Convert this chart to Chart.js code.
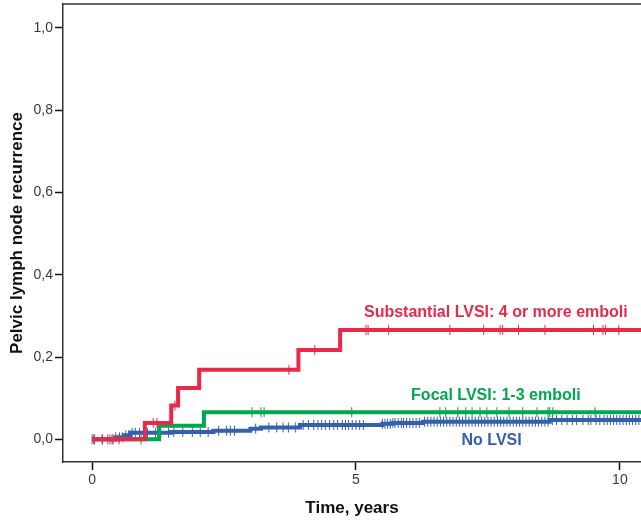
<!DOCTYPE html>
<html>
<head>
<meta charset="utf-8">
<script src="https://cdn.jsdelivr.net/npm/chart.js@4.4.0/dist/chart.umd.min.js"></script>
<style>
  html, body { margin: 0; padding: 0; background: #fff; overflow: hidden; }
  canvas { display: block; }
</style>
</head>
<body>
<canvas id="km" width="641" height="521"></canvas>
<script>
// ---- data (years, cumulative recurrence) ----
const redTimes = [0, 1.0, 1.5, 1.63, 2.03, 3.91, 4.70, 10.4];
const redVals  = [0, 0.040, 0.082, 0.125, 0.169, 0.217, 0.266, 0.266];
const redCensor = [0.03, 0.19, 0.34, 0.40, 0.51, 1.16, 1.23, 1.57, 3.73, 4.22, 5.19, 5.23, 5.62,
                   6.78, 7.42, 7.73, 7.78, 8.08, 8.58, 9.50, 9.68, 9.73, 9.98];

const greenTimes = [0, 1.27, 2.12, 10.4];
const greenVals  = [0, 0.033, 0.066, 0.066];
const greenCensor = [0.0, 0.93, 3.03, 3.20, 3.26, 4.92, 6.59, 6.70, 6.93, 7.08, 7.20, 7.35, 7.48,
                     7.67, 7.90, 8.16, 8.43, 8.64, 8.67, 8.73, 9.53];

const blueTimes = [0, 0.45, 0.60, 0.72, 1.5, 2.3, 3.0, 3.2, 3.94, 5.5, 5.7, 6.27, 8.67, 10.4];
const blueVals  = [0, 0.005, 0.010, 0.016, 0.018, 0.021, 0.026, 0.029, 0.035, 0.038, 0.040, 0.043, 0.047, 0.047];
const blueCensor = [0.05, 0.2, 0.3, 0.38, 0.45, 0.52, 0.58, 0.64, 0.7, 0.76, 0.82, 0.9, 1.05, 1.2, 1.3,
  1.45, 1.55, 1.72, 1.9, 2.05, 2.2, 2.4, 2.55, 2.62, 2.7, 3.1, 3.35, 3.5, 3.62, 3.72, 3.85, 4.0, 4.1,
  4.2, 4.28, 4.35, 4.42, 4.5, 4.58, 4.65, 4.74, 4.8, 4.86, 4.93, 5.0, 5.07, 5.14, 5.5, 5.55, 5.6, 5.65,
  5.7, 5.74, 5.8, 5.86, 5.9, 5.96, 6.02, 6.08, 6.14, 6.2, 6.3, 6.36, 6.42, 6.48, 6.54, 6.6, 6.66, 6.72,
  6.78, 6.84, 6.9, 6.96, 7.02, 7.08, 7.14, 7.2, 7.26, 7.32, 7.38, 7.44, 7.5, 7.56, 7.62, 7.68, 7.74,
  7.8, 7.86, 7.92, 7.98, 8.04, 8.1, 8.16, 8.22, 8.28, 8.34, 8.4, 8.46, 8.52, 8.58, 8.64, 8.72, 8.8,
  8.9, 9.0, 9.1, 9.18, 9.3, 9.4, 9.45, 9.55, 9.62, 9.7, 9.76, 9.82, 9.88, 9.94, 10.0, 10.06, 10.12,
  10.18, 10.24, 10.3, 10.36];

const xTicks = [0, 5, 10];
const yTicks = [0, 0.2, 0.4, 0.6, 0.8, 1.0];

const RED = 'rgb(234,41,74)';
const GREEN = 'rgb(0,166,80)';
const BLUE = 'rgb(52,96,172)';

// level of a step curve at time t
function levelAt(times, vals, t) {
  let v = vals[0];
  for (let i = 0; i < times.length; i++) {
    if (times[i] <= t) v = vals[i];
  }
  return v;
}
function steps(times, vals) {
  return times.map((t, i) => ({ x: t, y: vals[i] }));
}
function censors(list, times, vals) {
  return list.map(t => ({ x: t, y: levelAt(times, vals, t) }));
}

function lineSet(label, times, vals, color, width) {
  return {
    type: 'line', label, data: steps(times, vals),
    borderColor: color, borderWidth: width, stepped: true,
    pointRadius: 0, fill: false
  };
}
function censorSet(label, list, times, vals, color) {
  return {
    type: 'scatter', label, data: censors(list, times, vals),
    pointStyle: 'line', rotation: 90, pointRadius: 5,
    borderColor: color, borderWidth: 1, backgroundColor: color
  };
}

const labels = [
  { text: 'Substantial LVSI: 4 or more emboli', x: 7.65, y: 0.307, color: RED },
  { text: 'Focal LVSI: 1-3 emboli', x: 7.65, y: 0.107, color: GREEN },
  { text: 'No LVSI', x: 7.57, y: -0.003, color: BLUE }
];

const frameAndText = {
  id: 'frameAndText',
  afterDatasetsDraw(chart) {
    const { ctx, chartArea: { top, left, right }, scales: { x, y } } = chart;
    ctx.save();
    ctx.strokeStyle = '#333';
    ctx.lineWidth = 1.5;
    ctx.beginPath();
    ctx.moveTo(left, top);
    ctx.lineTo(right, top);
    ctx.stroke();
    ctx.font = 'bold 16px "Liberation Sans", Arial, sans-serif';
    ctx.textAlign = 'center';
    ctx.textBaseline = 'middle';
    labels.forEach(l => {
      ctx.fillStyle = l.color;
      ctx.fillText(l.text, x.getPixelForValue(l.x), y.getPixelForValue(l.y));
    });
    ctx.restore();
  }
};

const tickFont = { family: '"Liberation Sans", Arial, sans-serif', size: 14 };

new Chart(document.getElementById('km'), {
  data: {
    datasets: [
      censorSet('red censored', redCensor, redTimes, redVals, RED),
      lineSet('Substantial LVSI', redTimes, redVals, RED, 4),
      censorSet('green censored', greenCensor, greenTimes, greenVals, GREEN),
      lineSet('Focal LVSI', greenTimes, greenVals, GREEN, 4),
      censorSet('blue censored', blueCensor, blueTimes, blueVals, BLUE),
      lineSet('No LVSI', blueTimes, blueVals, BLUE, 4)
    ]
  },
  options: {
    responsive: false,
    animation: false,
    layout: { autoPadding: false, padding: { top: 4, right: 0, left: 0, bottom: 0 } },
    plugins: { legend: { display: false }, tooltip: { enabled: false } },
    scales: {
      x: {
        type: 'linear', min: -0.55, max: 10.4,
        afterBuildTicks: s => { s.ticks = xTicks.map(v => ({ value: v })); },
        afterFit: s => { s.height = 59; s.paddingLeft = 0; s.paddingRight = 0; },
        grid: { drawOnChartArea: false, drawTicks: true, tickLength: 8, color: '#111', tickWidth: 1.5 },
        border: { display: true, color: '#333', width: 1.5 },
        ticks: { font: tickFont, color: '#3a3a3a', padding: 2, maxRotation: 0,
                 callback: v => String(v) },
        title: { display: true, text: 'Time, years', color: '#111',
                 font: { family: '"Liberation Sans", Arial, sans-serif', size: 17, weight: 'bold' },
                 padding: { top: 0, bottom: 2 } }
      },
      y: {
        type: 'linear', min: -0.055, max: 1.058,
        afterBuildTicks: s => { s.ticks = yTicks.map(v => ({ value: v })); },
        afterFit: s => { s.width = 63; s.paddingTop = 0; s.paddingBottom = 0; },
        grid: { drawOnChartArea: false, drawTicks: true, tickLength: 8, color: '#111', tickWidth: 1.5 },
        border: { display: true, color: '#333', width: 1.5 },
        ticks: { font: tickFont, color: '#3a3a3a', padding: 2,
                 callback: v => v.toFixed(1).replace('.', ',') },
        title: { display: true, text: 'Pelvic lymph node recurrence', color: '#111',
                 font: { family: '"Liberation Sans", Arial, sans-serif', size: 17, weight: 'bold' },
                 padding: { top: 7, bottom: 0 } }
      }
    }
  },
  plugins: [frameAndText]
});
</script>
</body>
</html>
